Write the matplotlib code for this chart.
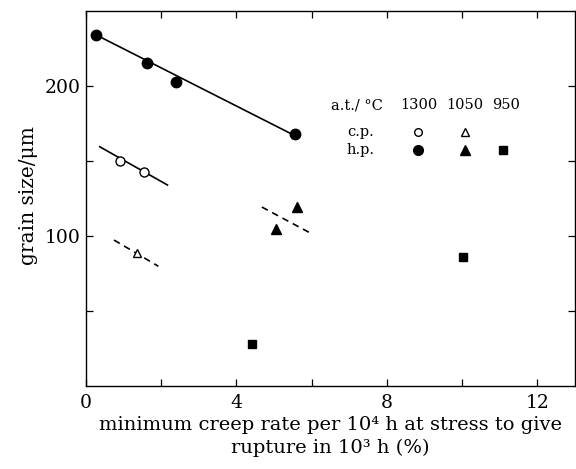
import matplotlib
matplotlib.use('Agg')
import matplotlib.pyplot as plt

plt.rcParams['font.family'] = ['DejaVu Serif']

# h.p. 1300 (filled circles)
hp1300_x = [0.28, 1.63, 2.41, 5.55]
hp1300_y = [234, 215.5, 202.7, 168]
hp1300_fit_x = [0.28, 5.55]
hp1300_fit_y = [234, 167]

# c.p. 1300 (open circles)
cp1300_x = [0.91, 1.55]
cp1300_y = [150.2, 142.9]
cp1300_fit_x = [0.37, 2.17]
cp1300_fit_y = [159.5, 134]

# c.p. 1050 (open triangle)
cp1050_x = [1.35]
cp1050_y = [88.5]
cp1050_fit_x = [0.75, 1.93]
cp1050_fit_y = [97.3, 79.8]

# h.p. 1050 (filled triangles)
hp1050_x = [5.06, 5.62]
hp1050_y = [104.4, 119.3]
hp1050_fit_x = [4.68, 5.93]
hp1050_fit_y = [119.3, 102.5]

# h.p. 950 (filled squares)
hp950_x = [4.42, 10.03]
hp950_y = [28.2, 86]

fig = plt.figure(figsize=(5.76, 4.69), dpi=100)
ax = fig.add_axes([0.149, 0.177, 0.849, 0.7995])

ax.plot(hp1300_fit_x, hp1300_fit_y, color='black', lw=1.2)
ax.plot(cp1300_fit_x, cp1300_fit_y, color='black', lw=1.2)
ax.plot(cp1050_fit_x, cp1050_fit_y, color='black', lw=1.2, ls=(0, (4, 3)))
ax.plot(hp1050_fit_x, hp1050_fit_y, color='black', lw=1.2, ls=(0, (4, 3)))

ax.plot(hp1300_x, hp1300_y, 'o', color='black', ms=7.5)
ax.plot(cp1300_x, cp1300_y, 'o', mfc='white', mec='black', mew=1.0, ms=6.5)
ax.plot(cp1050_x, cp1050_y, '^', mfc='white', mec='black', mew=1.0, ms=6)
ax.plot(hp1050_x, hp1050_y, '^', color='black', ms=7.5)
ax.plot(hp950_x, hp950_y, 's', color='black', ms=6)

ax.set_xlim(0, 13)
ax.set_ylim(0, 250)
ax.set_xticks([0, 2, 4, 6, 8, 10, 12])
ax.set_xticklabels(['0', '', '4', '', '8', '', '12'])
ax.set_yticks([50, 100, 150, 200])
ax.set_yticklabels(['', '100', '', '200'])
ax.tick_params(direction='in', top=True, right=True, length=5, width=0.9,
               labelsize=13.5, pad=3.5)
ax.tick_params(axis='x', pad=6)
for s in ax.spines.values():
    s.set_linewidth(1.0)

ax.set_xlabel('minimum creep rate per 10⁴ h at stress to give\nrupture in 10³ h (%)',
              fontsize=14, linespacing=1.3, labelpad=3)
fig.text(0.050, 0.584, 'grain size/μm', fontsize=14.5, rotation=90,
         ha='center', va='center')

# legend table
tkw = dict(transform=ax.transAxes, fontsize=10.5, va='center')
ax.text(0.555, 0.749, 'a.t./ °C', ha='center', **tkw)
ax.text(0.682, 0.749, '1300', ha='center', **tkw)
ax.text(0.774, 0.749, '1050', ha='center', **tkw)
ax.text(0.859, 0.749, '950', ha='center', **tkw)
ax.text(0.562, 0.677, 'c.p.', ha='center', **tkw)
ax.text(0.562, 0.629, 'h.p.', ha='center', **tkw)
ax.plot([0.679], [0.677], 'o', mfc='white', mec='black', mew=1.0, ms=5.5, transform=ax.transAxes)
ax.plot([0.775], [0.677], '^', mfc='white', mec='black', mew=1.0, ms=5.5, transform=ax.transAxes)
ax.plot([0.679], [0.629], 'o', color='black', ms=7, transform=ax.transAxes)
ax.plot([0.775], [0.629], '^', color='black', ms=6.5, transform=ax.transAxes)
ax.plot([0.853], [0.629], 's', color='black', ms=5.5, transform=ax.transAxes)

fig.savefig('out.png', dpi=100)
